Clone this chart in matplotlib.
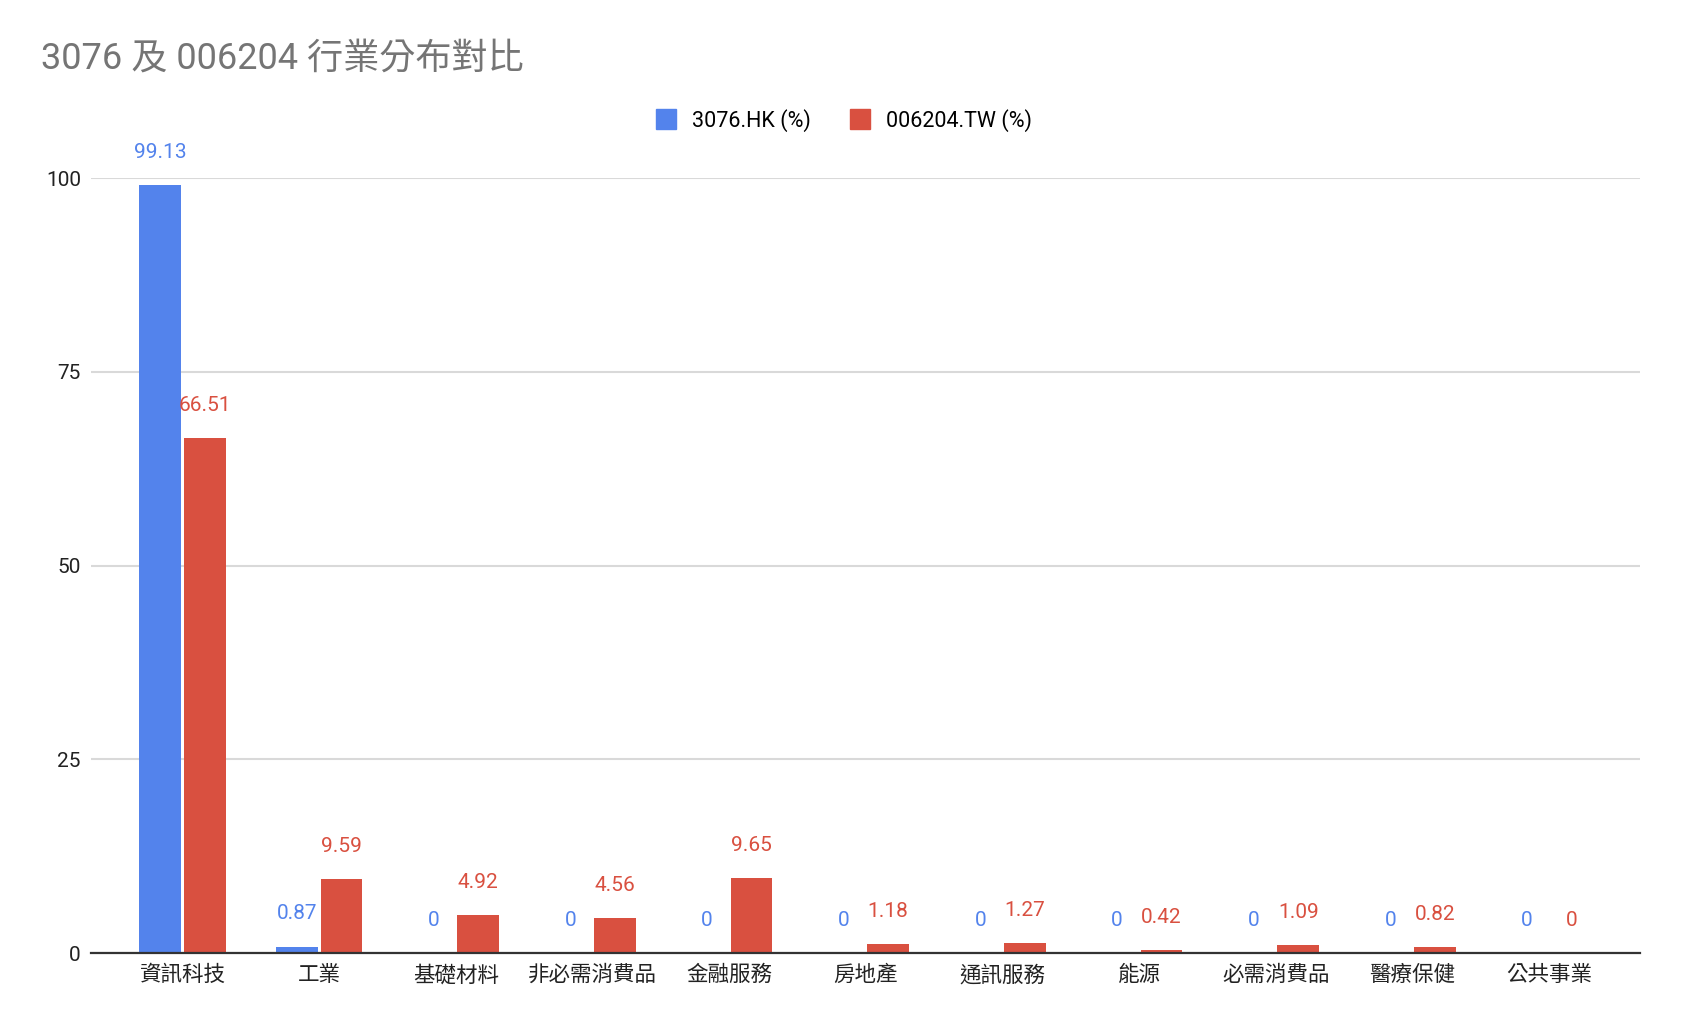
import matplotlib
matplotlib.use('Agg')

import matplotlib.pyplot as plt
from matplotlib.lines import Line2D
import numpy as np

plt.rcParams['font.family'] = ['Roboto', 'Noto Sans CJK TC', 'DejaVu Sans']

# data
categories = ['資訊科技', '工業', '基礎材料', '非必需消費品', '金融服務', '房地產',
              '通訊服務', '能源', '必需消費品', '醫療保健', '公共事業']
hk_values = [99.13, 0.87, 0, 0, 0, 0, 0, 0, 0, 0, 0]
tw_values = [66.51, 9.59, 4.92, 4.56, 9.65, 1.18, 1.27, 0.42, 1.09, 0.82, 0]
series_names = ['3076.HK (%)', '006204.TW (%)']
yticks = [0, 25, 50, 75, 100]

blue = '#5383EC'
red = '#D95040'

fig = plt.figure(figsize=(16.82, 10.30), dpi=100)
ax = fig.add_axes([0.0543, 0.0745, 0.921, 0.7525])

x = np.arange(len(categories))
w = 0.305
off = 0.163
bars_hk = ax.bar(x - off, hk_values, w, color=blue, zorder=3)
bars_tw = ax.bar(x + off, tw_values, w, color=red, zorder=3)

# value labels above bars
for bars, vals, c in [(bars_hk, hk_values, blue), (bars_tw, tw_values, red)]:
    for b, v in zip(bars, vals):
        txt = f'{v:g}'
        ax.annotate(txt, (b.get_x() + b.get_width() / 2, v),
                    xytext=(0, 23.5), textcoords='offset points',
                    ha='center', va='center', fontsize=15, color=c,
                    annotation_clip=False)

ax.set_xlim(-0.667, len(categories) - 0.333)
ax.set_ylim(0, 100)
ax.set_yticks(yticks)
ax.set_xticks(x)
ax.set_xticklabels(categories, fontsize=15.5, color='#222222')
ax.tick_params(axis='y', length=0, pad=7.5, labelsize=15, labelcolor='#222222')
ax.tick_params(axis='x', length=0, pad=8.5)

ax.grid(axis='y', color='#d9d9d9', linewidth=1.5, zorder=0)
for s in ['top', 'right', 'left']:
    ax.spines[s].set_visible(False)
ax.spines['bottom'].set_color('#333333')
ax.spines['bottom'].set_linewidth(1.6)
ax.spines['bottom'].set_zorder(4)

fig.text(0.0243, 0.9435, '3076 及 006204 行業分布對比', fontsize=26,
         color='#757575', ha='left', va='center')

handles = [Line2D([], [], marker='s', color=blue, linestyle='none', markersize=14),
           Line2D([], [], marker='s', color=red, linestyle='none', markersize=14)]
fig.legend(handles, series_names, loc='center', bbox_to_anchor=(0.5016, 0.883),
           ncol=2, frameon=False, fontsize=15.5, handlelength=1.0,
           handletextpad=0.7, columnspacing=1.8)

fig.savefig('out.png', dpi=100)
